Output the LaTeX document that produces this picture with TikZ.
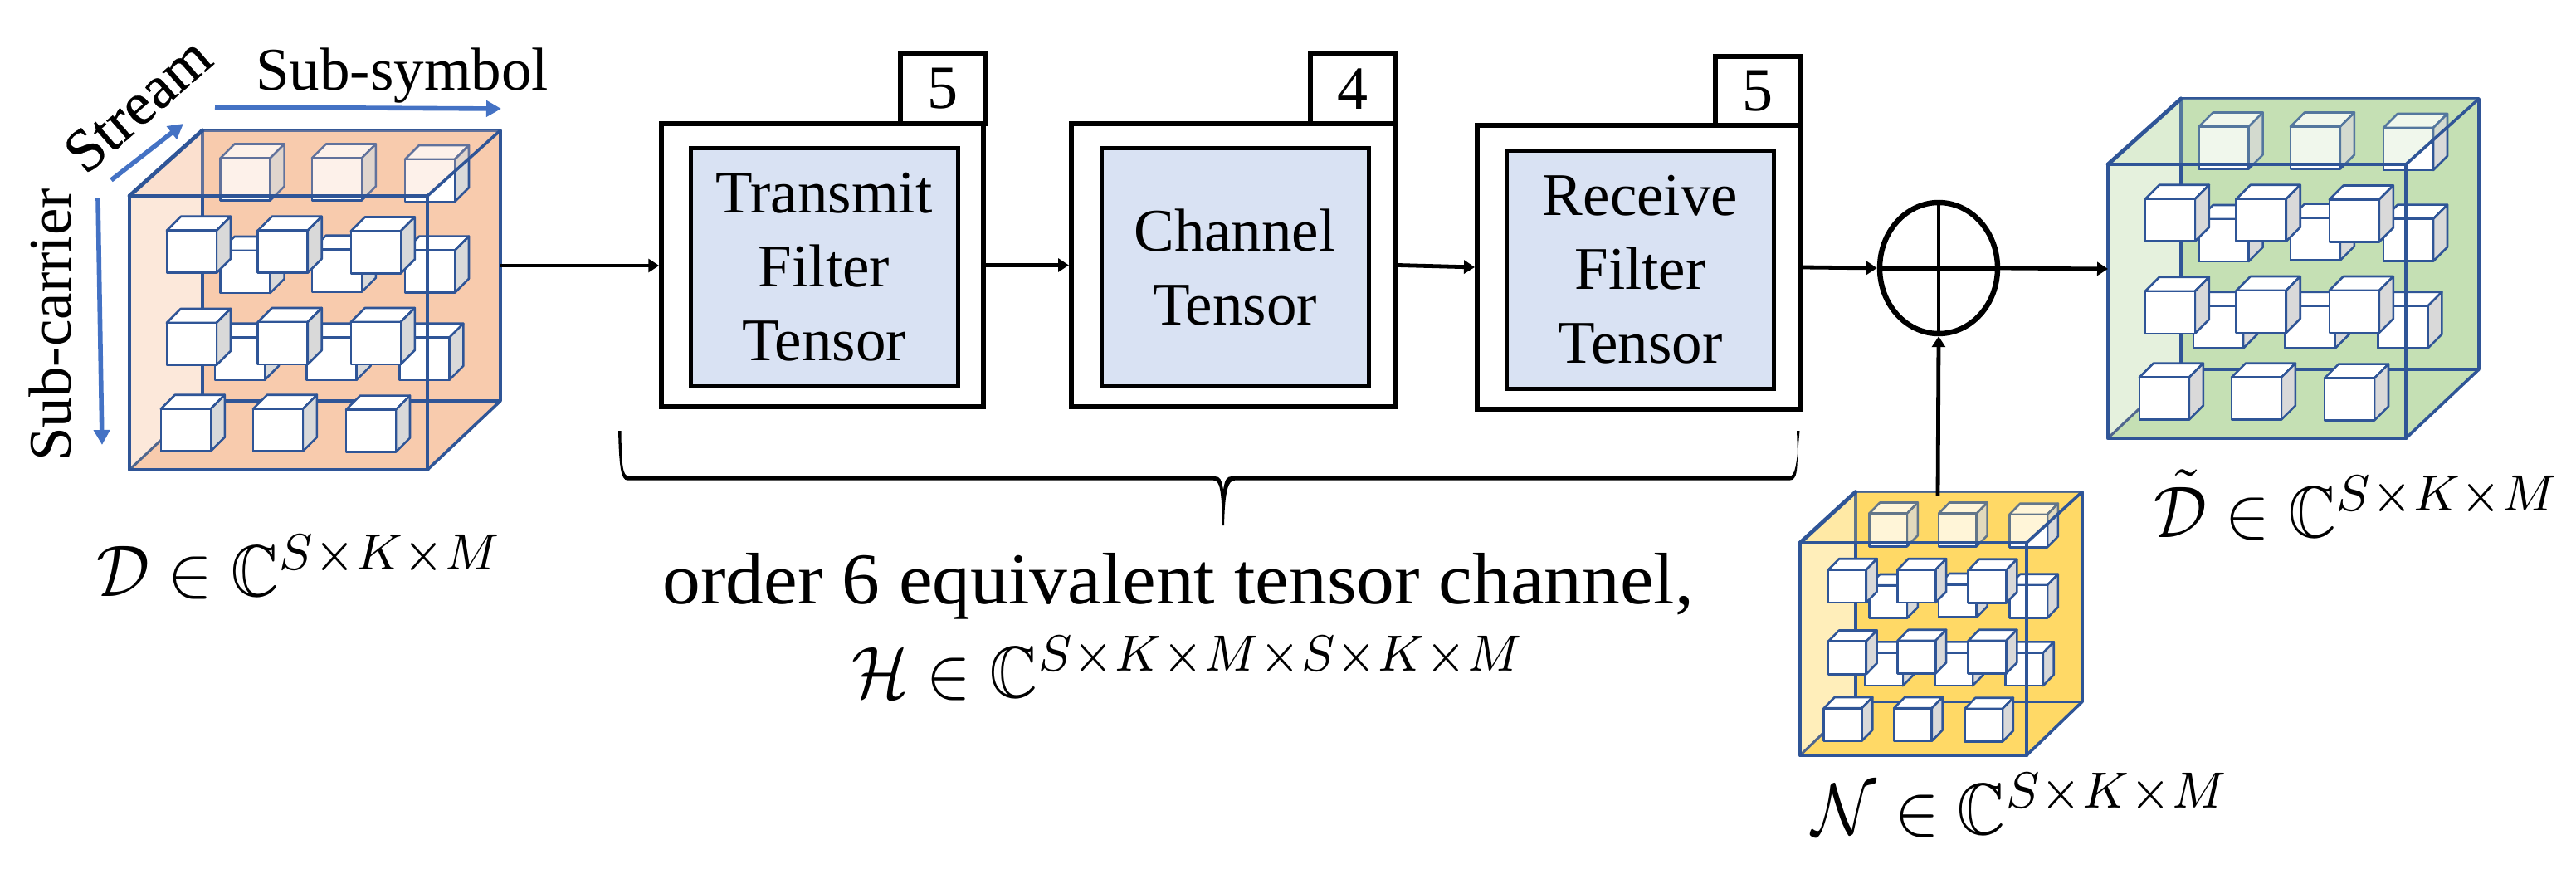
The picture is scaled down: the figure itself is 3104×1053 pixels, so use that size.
\documentclass[tikz,border=0pt]{standalone}
\usepackage{graphicx}
\usepackage{amssymb}
\usepackage{fontspec}
\setmainfont{Liberation Serif}
\usetikzlibrary{arrows.meta,shapes.geometric}
\definecolor{edgeblue}{HTML}{2F5597}
\definecolor{arrowblue}{HTML}{4472C4}
\definecolor{blockfill}{HTML}{D9E2F3}
\definecolor{peach}{HTML}{F8CBAD}
\definecolor{leaf}{HTML}{C5E0B4}
\definecolor{gold}{HTML}{FFD966}
\definecolor{sidegrey}{HTML}{D9D9D9}
\tikzset{
  outerblock/.style={draw=black,line width=3pt,fill=white,inner sep=0pt,minimum width=#1,minimum height=170.5pt},
  innerblock/.style={draw=black,line width=2.5pt,fill=blockfill,inner sep=0pt,minimum width=161pt,minimum height=143.5pt,align=center,font=\fontsize{36.5}{44.5}\selectfont},
  tabblock/.style={draw=black,line width=3pt,fill=white,inner sep=0pt,minimum width=51pt,minimum height=42pt,font=\fontsize{37}{44}\selectfont},
  conn/.style={draw=black,line width=2.4pt,-{Triangle[length=6.5pt,width=8pt]}},
  bluearrow/.style={draw=arrowblue,line width=2.8pt,-{Triangle[length=9pt,width=9.5pt]}},
  lbl/.style={inner sep=0pt,anchor=base west,font=\fontsize{36.5}{44}\selectfont},
  mathlbl/.style={inner sep=0pt,anchor=base west},
  frame/.style={draw=edgeblue,line width=1.8pt,line cap=round,line join=round},
  framethick/.style={draw=edgeblue,line width=2.4pt,line cap=round,line join=round},
  mini/.style={draw=edgeblue,line width=1.3pt,line join=round}
}
\newcommand{\mathsized}[1]{\scalebox{4.0}[4.4]{$#1$}}
\newcommand{\minicube}[2]{%
  \filldraw[mini,fill=white] (#1,#2) -- ++(17,-17) -- ++(60,0) -- ++(-17,17) -- cycle;
  \filldraw[mini,fill=sidegrey] (#1+60,#2) -- ++(17,-17) -- ++(0,51) -- ++(-17,17) -- cycle;
  \filldraw[mini,fill=white] (#1,#2) rectangle ++(60,51);
}
\newcommand{\bigcube}[5]{%
  \begin{scope}[shift={(#1,#2)},xscale=#3,yscale=#4]
  \begin{scope}[shift={(-156,-236)}]
    \fill[#5] (244,157) -- (603,157) -- (603,483) -- (515,566) -- (156,566) -- (244,483) -- cycle;
    \fill[#5,opacity=.45] (156,236) -- (244,157) -- (244,483) -- (156,566) -- cycle;
    \draw[frame] (244,157) -- (603,157) -- (603,483) -- (244,483);
    \draw[framethick] (244,157) -- (244,483);
    \draw[draw=edgeblue!60!gray,line width=1.5pt] (156,566) -- (244,483);
    \minicube{265.6}{190.5}\minicube{375.9}{190.5}\minicube{488}{192}
    \minicube{265.6}{302}\minicube{375.9}{300.7}\minicube{488}{301.7}
    \minicube{259}{406.8}\minicube{369.6}{406.8}\minicube{481.3}{406.8}
    \minicube{200.9}{277.8}\minicube{310.7}{277.8}\minicube{422.8}{278.5}
    \minicube{200.9}{388.9}\minicube{310.7}{388}\minicube{422.8}{388}
    \minicube{193.8}{492.7}\minicube{304.9}{492.7}\minicube{417}{493.6}
    \fill[#5,opacity=.25] (156,236) -- (244,157) -- (603,157) -- (515,236) -- cycle;
    \draw[frame] (156,236) -- (515,236) -- (515,566);
    \draw[framethick] (156,236) -- (156,566) -- (515,566);
    \draw[framethick] (156,236) -- (244,157);
    \draw[frame] (515,236) -- (603,157);
    \draw[frame] (515,566) -- (603,483);
  \end{scope}
  \end{scope}
}
\begin{document}
\begin{tikzpicture}[x=0.5pt,y=-0.5pt]
\useasboundingbox (0,0) rectangle (3104,1053);
% tensor cubes
\bigcube{156}{236}{1}{1}{peach}
\bigcube{2540}{198}{1}{1}{leaf}
\bigcube{2169}{654}{.76}{.776}{gold}
\coordinate (dcube) at (603,320);
\coordinate (rcube) at (2540,324);
\coordinate (ncube) at (2335,597);
% axis labels
\coordinate (subsyma) at (259,129);
\coordinate (subsymb) at (604,131);
\coordinate (streama) at (134,217);
\coordinate (streamb) at (221,149);
\coordinate (subcara) at (118,239);
\coordinate (subcarb) at (123,536);
\draw[bluearrow] (subsyma) -- (subsymb);
\draw[bluearrow] (streama) -- (streamb);
\draw[bluearrow] (subcara) -- (subcarb);
\node[lbl] (subsym) at (308,109) {Sub-symbol};
\node[lbl,rotate=41] (stream) at (103,212) {\addfontfeature{FakeBold=0.4}Stream};
\node[lbl,rotate=90] (subcar) at (85,556) {Sub-carrier};
% blocks
\node[tabblock] (tab1) at (1135.5,107) {5};
\node[tabblock] (tab2) at (1629.5,107) {4};
\node[tabblock] (tab3) at (2117.5,110) {5};
\node[outerblock=193.75pt] (outer1) at (991,319.5) {};
\node[outerblock=195pt] (outer2) at (1486,319.5) {};
\node[outerblock=194.5pt] (outer3) at (1974.5,322) {};
\node[innerblock] (inner1) at (993,322) {Transmit\\Filter\\Tensor};
\node[innerblock] (inner2) at (1488,322) {Channel\\Tensor};
\node[innerblock] (inner3) at (1976.5,325) {Receive\\Filter\\Tensor};
% summing junction
\node[ellipse,draw=black,line width=3.2pt,minimum width=71pt,minimum height=79pt,inner sep=0pt] (plus) at (2336,323) {};
\draw[line width=3pt] (plus.west) -- (plus.east);
\draw[line width=2.2pt] (plus.north) -- (plus.south);
% connectors
\draw[conn] (dcube) -- (outer1.west |- dcube);
\draw[conn] (outer1.east) -- (outer2.west);
\draw[conn] (outer2.east) -- (outer3.west);
\draw[conn] (outer3.east) -- (plus.west);
\draw[conn] (plus.east) -- (rcube);
\draw[conn] (ncube) -- (plus.south);
% brace
\fill (745,519) -- (748.5,519) .. controls (749,560) and (750,574) .. (758,574)
  -- (1464,574) .. controls (1470,574) and (1472,578) .. (1474,590)
  .. controls (1476,578) and (1478,574) .. (1484,574)
  -- (2156,574) .. controls (2163,574) and (2165,560) .. (2168.5,519) -- (2165,519)
  .. controls (2167,566) and (2166,578.7) .. (2156,578.7)
  -- (1488,578.7) .. controls (1480,578.7) and (1476,590) .. (1475,633) -- (1473,633)
  .. controls (1472,590) and (1470,578.7) .. (1462,578.7)
  -- (756,578.7) .. controls (748,578.7) and (746,560) .. (745,519) -- cycle;
% labels
\node[lbl,font=\fontsize{44}{48}\selectfont] (order) at (798,727) {\scalebox{1.04}[1]{order 6 equivalent tensor channel,}};
\node[mathlbl] (hlab) at (1026,840) {\mathsized{\mathcal{H}\in\mathbb{C}^{S\times K\times M\times S\times K\times M}}};
\node[mathlbl] (dlab) at (116,718) {\mathsized{\mathcal{D}\in\mathbb{C}^{S\times K\times M}}};
\node[mathlbl] (dtlab) at (2595,647) {\mathsized{\tilde{\mathcal{D}}\in\mathbb{C}^{S\times K\times M}}};
\node[mathlbl] (nlab) at (2183,1005) {\mathsized{\mathcal{N}\in\mathbb{C}^{S\times K\times M}}};
\end{tikzpicture}
\end{document}
